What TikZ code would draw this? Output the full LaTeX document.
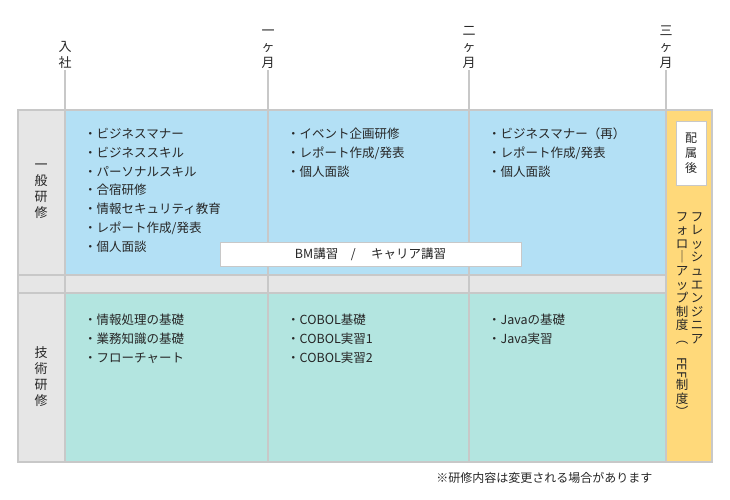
\documentclass[tikz,border=0pt]{standalone}
\usepackage{fontspec}
\setmainfont{Noto Sans CJK JP}
\newcommand{\ls}{18.8pt}
\definecolor{bmblue}{HTML}{B3E0F5}
\definecolor{gijteal}{HTML}{B3E5E0}
\definecolor{labgray}{HTML}{E6E6E6}
\definecolor{linegray}{HTML}{C8C8C8}
\definecolor{fefyellow}{HTML}{FFD97A}

\begin{document}
\begin{tikzpicture}[x=1pt,y=-1pt,
    every node/.style={font=\fontsize{12.5}{15}\selectfont, text=black!85},
    list/.style={anchor=north west, align=left, inner sep=0pt, font=\fontsize{12.5}{\ls}\selectfont},
    head/.style={align=center, inner sep=0pt, font=\fontsize{13}{16}\selectfont},
    sep/.style={draw=linegray, line width=2pt}]
    \useasboundingbox (0,0) rectangle (730,500);

    % Rows
    \fill[labgray] (18,110) rectangle (712,462);
    \fill[bmblue] (65,110) rectangle (666,275);
    \fill[gijteal] (65,293) rectangle (666,462);
    \fill[fefyellow] (666,110) rectangle (712,462);
    \draw[sep] (18,110) rectangle (712,462);
    \draw[sep] (18,275) -- (666,275);
    \draw[sep] (18,293) -- (666,293);

    % Month lines
    \foreach \x in {65,268,469,666} \draw[sep] (\x,70) -- (\x,462);

    % Month heads
    \node[head, anchor=south] (m-0) at (65,69) {入\\社};
    \node[head, anchor=south] (m-1) at (268,69) {一\\ヶ\\月};
    \node[head, anchor=south] (m-2) at (469,69) {二\\ヶ\\月};
    \node[head, anchor=south] (m-3) at (666,69) {三\\ヶ\\月};

    % Row heads
    \node[head] (row-1) at (41,191) {一\\般\\研\\修};
    \node[head] (row-2) at (41,377) {技\\術\\研\\修};

    % First row
    \node[list] (list-1-1) at (84,128) {・ビジネスマナー\\・ビジネススキル\\・パーソナルスキル\\・合宿研修\\・情報セキュリティ教育\\・レポート作成/発表\\・個人面談};
    \node[list] (list-1-2) at (287,128) {・イベント企画研修\\・レポート作成/発表\\・個人面談};
    \node[list] (list-1-3) at (488,128) {・ビジネスマナー（再）\\・レポート作成/発表\\・個人面談};
    \node[draw=linegray, fill=white, minimum width=301pt, minimum height=24pt, inner sep=0pt] (bm) at (370.5,254) {BM講習\quad / \quad キャリア講習};

    % Second row
    \node[list] (list-2-1) at (84,314) {・情報処理の基礎\\・業務知識の基礎\\・フローチャート};
    \node[list] (list-2-2) at (287,314) {・COBOL基礎\\・COBOL実習1\\・COBOL実習2};
    \node[list] (list-2-3) at (488,314) {・Javaの基礎\\・Java実習};

    % FEF
    \node[draw=linegray, fill=white, minimum width=30pt, minimum height=64pt, head, font=\fontsize{12}{15}\selectfont] (haizoku) at (691,153) {配\\属\\後};
    \node[head, anchor=north, font=\fontsize{12.5}{13.6}\selectfont] (fef-1) at (697,212) {フ\\レ\\ッ\\シ\\ュ\\エ\\ン\\ジ\\ニ\\ア};
    \node[head, anchor=north, font=\fontsize{12.5}{13.6}\selectfont] (fef-2) at (682,212) {フ\\ォ\\ロ\\｜\\ア\\ッ\\プ\\制\\度\\︵\\\rotatebox{-90}{FEF}\\制\\度\\︶};

    \node[anchor=east, font=\fontsize{12}{14}\selectfont] (note) at (656,478) {※研修内容は変更される場合があります};
\end{tikzpicture}
\end{document}
